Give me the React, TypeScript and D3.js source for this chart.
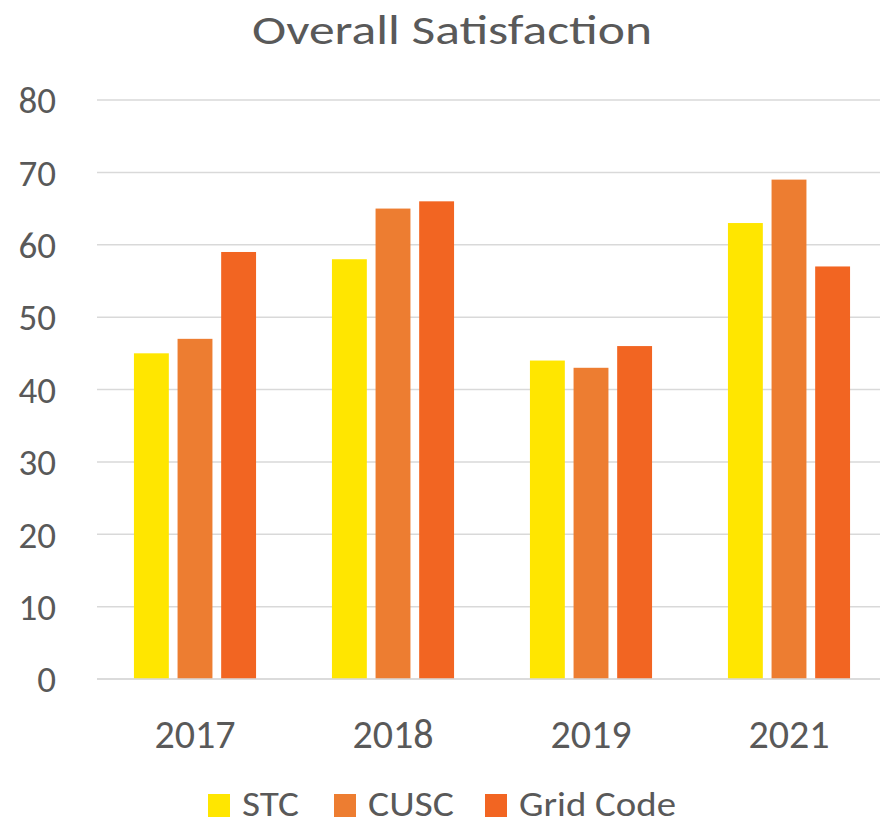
import React, { useRef, useEffect } from 'react';
import * as d3 from 'd3';

const years = ['2017', '2018', '2019', '2021'];
const seriesNames = ['STC', 'CUSC', 'Grid Code'];
const stcValues = [45, 58, 44, 63];
const cuscValues = [47, 65, 43, 69];
const gridCodeValues = [59, 66, 46, 57];
const yTicks = [0, 10, 20, 30, 40, 50, 60, 70, 80];

const colors = ['#FFE600', '#ED7D31', '#F26522'];
const FONT = 'Carlito, Lato, sans-serif';

export default function App() {
    const svgRef = useRef<SVGSVGElement>(null);

    useEffect(() => {
        if (!svgRef.current) return;
        const width = 880;
        const height = 826;

        const svg = d3.select(svgRef.current)
            .attr('width', width)
            .attr('height', height)
            .attr('viewBox', `0 0 ${width} ${height}`);
        svg.selectAll('*').remove();

        const values = [stcValues, cuscValues, gridCodeValues];

        const x0 = d3.scaleBand().domain(years).range([96, 888]).padding(0);
        const x1 = d3.scaleBand().domain(seriesNames)
            .range([0, x0.bandwidth()])
            .paddingInner(0.2)
            .paddingOuter(0.87);
        const y = d3.scaleLinear().domain([0, 80]).range([679, 100]);

        // gridlines
        svg.append('g')
            .selectAll('line')
            .data(yTicks)
            .join('line')
            .attr('x1', 97)
            .attr('x2', width)
            .attr('y1', d => y(d))
            .attr('y2', d => y(d))
            .attr('stroke', '#D9D9D9')
            .attr('stroke-width', 1.5);

        // y tick labels
        svg.append('g')
            .selectAll('text')
            .data(yTicks)
            .join('text')
            .attr('x', 56)
            .attr('y', d => y(d))
            .attr('dy', '0.36em')
            .attr('text-anchor', 'end')
            .attr('fill', '#595959')
            .attr('font-family', FONT)
            .attr('font-size', '37px')
            .text(d => d);

        // bars
        const groups = svg.append('g')
            .selectAll('g')
            .data(years)
            .join('g')
            .attr('transform', d => `translate(${x0(d)},0)`);

        groups.selectAll('rect')
            .data((_, i) => seriesNames.map((s, k) => ({ s, k, v: values[k][i] })))
            .join('rect')
            .attr('x', d => x1(d.s)!)
            .attr('width', x1.bandwidth())
            .attr('y', d => y(d.v))
            .attr('height', d => y(0) - y(d.v))
            .attr('fill', d => colors[d.k]);

        // baseline
        svg.append('line')
            .attr('x1', 97).attr('x2', width)
            .attr('y1', y(0)).attr('y2', y(0))
            .attr('stroke', '#D9D9D9')
            .attr('stroke-width', 1.5);

        // x labels
        svg.append('g')
            .selectAll('text')
            .data(years)
            .join('text')
            .attr('x', d => x0(d)! + x0.bandwidth() / 2)
            .attr('y', 748)
            .attr('text-anchor', 'middle')
            .attr('fill', '#595959')
            .attr('font-family', FONT)
            .attr('font-size', '40px')
            .text(d => d);

        // title
        svg.append('text')
            .attr('x', 452)
            .attr('y', 44)
            .attr('text-anchor', 'middle')
            .attr('fill', '#595959')
            .attr('font-family', FONT)
            .attr('font-size', '42px')
            .attr('textLength', 400)
            .attr('lengthAdjust', 'spacingAndGlyphs')
            .text('Overall Satisfaction');

        // legend
        const legend = svg.append('g');
        const legendStarts = [208, 334, 485];
        const legendTextW = [57, 86, 157];
        seriesNames.forEach((name, k) => {
            legend.append('rect')
                .attr('x', legendStarts[k])
                .attr('y', 794)
                .attr('width', 22)
                .attr('height', 23)
                .attr('fill', colors[k]);
            legend.append('text')
                .attr('x', legendStarts[k] + 34)
                .attr('y', 816)
                .attr('fill', '#595959')
                .attr('font-family', FONT)
                .attr('font-size', '34px')
                .attr('textLength', legendTextW[k])
                .attr('lengthAdjust', 'spacingAndGlyphs')
                .text(name);
        });
    }, []);

    return <svg ref={svgRef} style={{ position: 'absolute', left: 0, top: 0, background: '#fff' }} />;
}
